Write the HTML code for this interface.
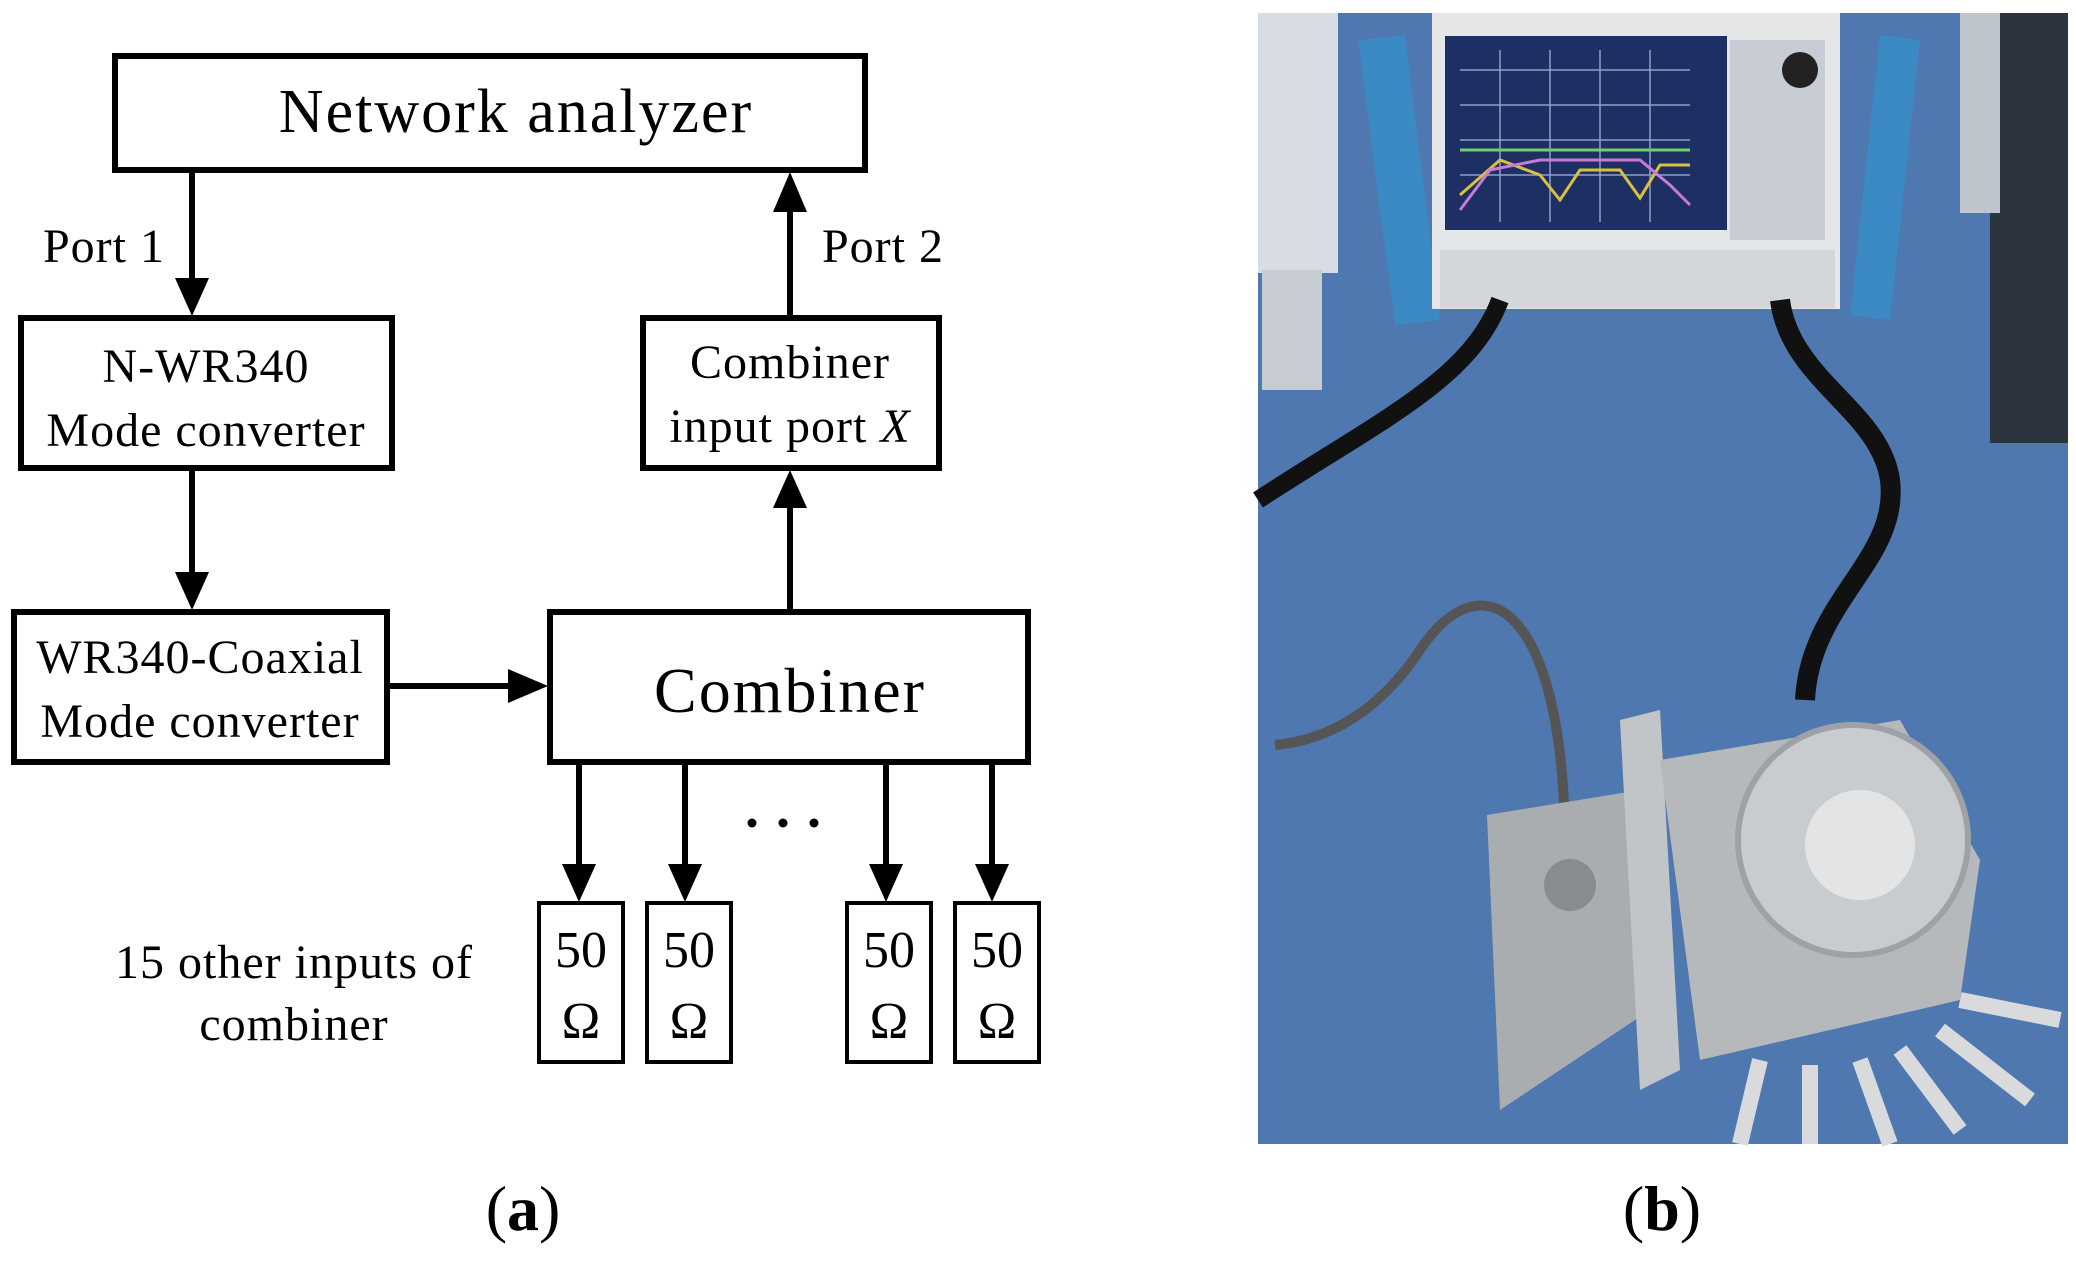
<!DOCTYPE html>
<html><head><meta charset="utf-8"><style>
html,body{margin:0;padding:0;background:#fff;}
body{width:2076px;height:1278px;position:relative;overflow:hidden;font-family:"Liberation Serif",serif;}
svg{position:absolute;left:0;top:0;}
</style></head><body>
<svg width="2076" height="1278" viewBox="0 0 2076 1278" xmlns="http://www.w3.org/2000/svg">
<defs>
<marker id="ah" markerWidth="10" markerHeight="10" refX="9" refY="5" orient="auto" markerUnits="userSpaceOnUse"></marker>
</defs>
<g fill="none" stroke="#000" stroke-width="6">
<rect x="115" y="56" width="750" height="114"/>
<rect x="21" y="318" width="371" height="150"/>
<rect x="14" y="612" width="373" height="150"/>
<rect x="643" y="318" width="296" height="150"/>
<rect x="550" y="612" width="478" height="150"/>
<rect x="539" y="903" width="84" height="159" stroke-width="4"/>
<rect x="647" y="903" width="84" height="159" stroke-width="4"/>
<rect x="847" y="903" width="84" height="159" stroke-width="4"/>
<rect x="955" y="903" width="84" height="159" stroke-width="4"/>
<line x1="192" y1="170" x2="192" y2="282"/>
<line x1="192" y1="468" x2="192" y2="576"/>
<line x1="387" y1="686" x2="512" y2="686"/>
<line x1="790" y1="612" x2="790" y2="506"/>
<line x1="790" y1="318" x2="790" y2="208"/>
<line x1="579" y1="762" x2="579" y2="868"/>
<line x1="685" y1="762" x2="685" y2="868"/>
<line x1="886" y1="762" x2="886" y2="868"/>
<line x1="992" y1="762" x2="992" y2="868"/>
</g>
<g fill="#000">
<polygon points="175,278 209,278 192,316"/>
<polygon points="175,572 209,572 192,610"/>
<polygon points="508,669 508,703 548,686"/>
<polygon points="773,508 807,508 790,470"/>
<polygon points="773,212 807,212 790,172"/>
<polygon points="562,864 596,864 579,902"/>
<polygon points="668,864 702,864 685,902"/>
<polygon points="869,864 903,864 886,902"/>
<polygon points="975,864 1009,864 992,902"/>
<circle cx="752" cy="823" r="4.5"/><circle cx="783" cy="823" r="4.5"/><circle cx="814" cy="823" r="4.5"/>
</g>
<g font-family="Liberation Serif, serif" fill="#000" text-anchor="middle">
<text x="516" y="132" font-size="62" letter-spacing="2">Network analyzer</text>
<text x="104" y="262" font-size="48" letter-spacing="1">Port 1</text>
<text x="883" y="262" font-size="48" letter-spacing="1">Port 2</text>
<text x="206" y="382" font-size="48" letter-spacing="1">N-WR340</text>
<text x="206" y="446" font-size="48" letter-spacing="1">Mode converter</text>
<text x="200" y="673" font-size="48" letter-spacing="1">WR340-Coaxial</text>
<text x="200" y="737" font-size="48" letter-spacing="1">Mode converter</text>
<text x="790" y="378" font-size="48" letter-spacing="1">Combiner</text>
<text x="790" y="442" font-size="48" letter-spacing="1">input port <tspan font-style="italic">X</tspan></text>
<text x="790" y="712" font-size="64" letter-spacing="2">Combiner</text>
<text x="294" y="978" font-size="48" letter-spacing="1">15 other inputs of</text>
<text x="294" y="1040" font-size="48" letter-spacing="1">combiner</text>
<g font-size="52">
<text x="581" y="967">50</text><text x="581" y="1038">Ω</text>
<text x="689" y="967">50</text><text x="689" y="1038">Ω</text>
<text x="889" y="967">50</text><text x="889" y="1038">Ω</text>
<text x="997" y="967">50</text><text x="997" y="1038">Ω</text>
</g>
<text x="523" y="1230" font-size="64"><tspan>(</tspan><tspan font-weight="bold">a</tspan><tspan>)</tspan></text>
<text x="1662" y="1230" font-size="64"><tspan>(</tspan><tspan font-weight="bold">b</tspan><tspan>)</tspan></text>
</g>
<!-- photo -->
<g>
<rect x="1258" y="13" width="810" height="1131" fill="#4f78b0"/>
<rect x="1258" y="13" width="80" height="260" fill="#d8dde3"/>
<rect x="1262" y="270" width="60" height="120" fill="#c7ccd2"/>
<rect x="1990" y="13" width="78" height="430" fill="#2c3440"/>
<rect x="1960" y="13" width="40" height="200" fill="#bfc5cc"/>
<polygon points="1358,40 1405,35 1440,320 1395,325" fill="#3b8ac4"/>
<polygon points="1880,35 1920,40 1890,320 1850,315" fill="#3b8ac4"/>
<rect x="1432" y="13" width="408" height="296" fill="#e4e6e8"/>
<rect x="1440" y="250" width="395" height="58" fill="#d4d7da"/>
<rect x="1445" y="36" width="282" height="194" fill="#1d2f63"/>
<g stroke="#8ea0c8" stroke-width="1.5">
<line x1="1460" y1="70" x2="1690" y2="70"/><line x1="1460" y1="105" x2="1690" y2="105"/><line x1="1460" y1="140" x2="1690" y2="140"/><line x1="1460" y1="175" x2="1690" y2="175"/>
<line x1="1500" y1="50" x2="1500" y2="222"/><line x1="1550" y1="50" x2="1550" y2="222"/><line x1="1600" y1="50" x2="1600" y2="222"/><line x1="1650" y1="50" x2="1650" y2="222"/>
</g>
<polyline points="1460,150 1520,150 1560,150 1600,150 1690,150" stroke="#6fd06a" stroke-width="3" fill="none"/>
<polyline points="1460,195 1500,160 1540,175 1560,200 1580,170 1620,170 1640,198 1660,165 1690,165" stroke="#d8c040" stroke-width="3" fill="none"/>
<polyline points="1460,210 1490,170 1540,160 1640,160 1670,185 1690,205" stroke="#c87ad8" stroke-width="3" fill="none"/>
<rect x="1730" y="40" width="95" height="200" fill="#c8cdd5"/>
<circle cx="1800" cy="70" r="18" fill="#222"/>
<path d="M1500,300 C1470,380 1380,420 1258,500" stroke="#111" stroke-width="18" fill="none"/>
<path d="M1780,300 C1790,380 1880,410 1890,480 C1900,560 1810,600 1805,700" stroke="#111" stroke-width="20" fill="none"/>
<path d="M1565,830 C1560,600 1480,560 1420,650 C1380,710 1330,740 1275,745" stroke="#555" stroke-width="10" fill="none"/>
<polygon points="1487,815 1640,790 1650,1010 1500,1110" fill="#a9adb0"/>
<polygon points="1620,720 1660,710 1680,1070 1640,1090" fill="#c2c5c7"/>
<polygon points="1660,760 1900,720 1980,860 1960,1000 1700,1060" fill="#b6b9bb"/>
<circle cx="1853" cy="840" r="115" fill="#c9ccce" stroke="#9ea2a6" stroke-width="6"/>
<circle cx="1860" cy="845" r="55" fill="#e2e4e6"/>
<circle cx="1570" cy="885" r="26" fill="#888c90"/>
<g stroke="#d8dadc" stroke-width="16">
<line x1="1760" y1="1060" x2="1740" y2="1144"/><line x1="1810" y1="1065" x2="1810" y2="1144"/><line x1="1860" y1="1060" x2="1890" y2="1144"/><line x1="1900" y1="1050" x2="1960" y2="1130"/><line x1="1940" y1="1030" x2="2030" y2="1100"/><line x1="1960" y1="1000" x2="2060" y2="1020"/>
</g>
</g>
</svg>
</body></html>
